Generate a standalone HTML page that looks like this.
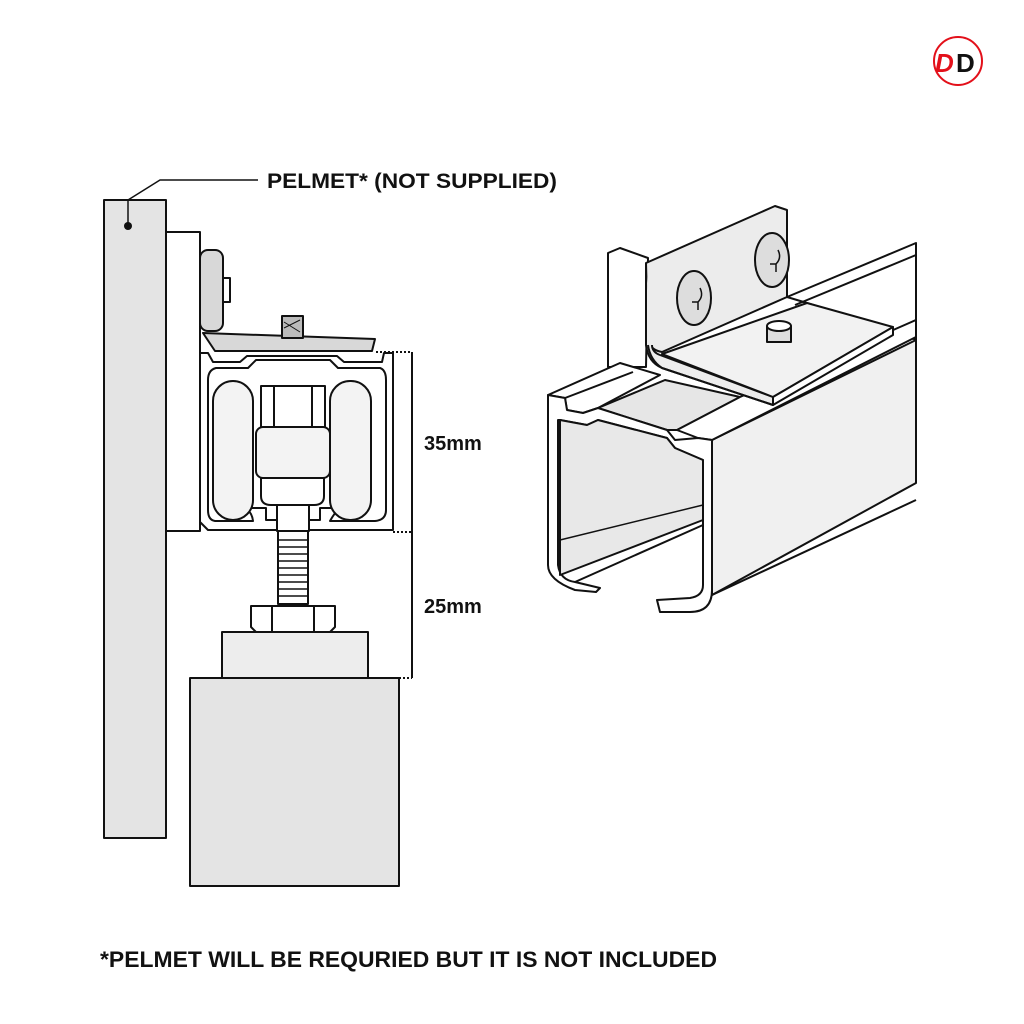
<!DOCTYPE html>
<html><head><meta charset="utf-8"><style>
html,body{margin:0;padding:0;background:#fff;}
svg{display:block}
text{font-family:"Liberation Sans",sans-serif;font-weight:bold;fill:#111}
</style></head><body>
<svg width="1024" height="1024" viewBox="0 0 1024 1024" xmlns="http://www.w3.org/2000/svg">
<circle cx="958" cy="61" r="24" fill="#fff" stroke="#e3101a" stroke-width="2"/>
<text x="935" y="72" font-size="26" font-style="italic" style="fill:#e3101a">D</text>
<text x="956" y="72" font-size="26" style="fill:#111">D</text>

<g stroke="#111" stroke-width="2" stroke-linejoin="round">
<rect x="104" y="200" width="62" height="638" fill="#e4e4e4"/>
<circle cx="128" cy="226" r="4" fill="#111" stroke="none"/>
<polyline points="128,226 128,200 160,180 258,180" fill="none" stroke-width="1.5"/>
<rect x="166" y="232" width="34" height="299" fill="#fff"/>
<rect x="200" y="250" width="23" height="81" rx="8" fill="#d8d8d8"/>
<rect x="223" y="278" width="7" height="24" fill="#fff"/>
<polygon points="203,333 375,339 372,351 215,351" fill="#d8d8d8"/>
<rect x="282" y="316" width="21" height="22" fill="#bbb"/>
<line x1="284" y1="322" x2="300" y2="332" stroke-width="1"/>
<line x1="284" y1="328" x2="300" y2="320" stroke-width="1"/>
<path d="M200,353 L208,353 L213,362 L240,362 L247,356 L337,356 L344,362 L382,362 L384,353 L393,353 L393,530 L208,530 L200,522 Z" fill="#fff"/>
<path d="M216,368 L248,368 L256,360 L330,360 L338,368 L380,368 Q386,370 386,380 L386,510 Q386,520 375,521 L330,521 Q335,512 340,508 L320,508 L320,520 L266,520 L266,508 L245,508 Q252,512 253,521 L215,521 Q208,520 208,510 L208,380 Q208,370 216,368 Z" fill="#fff"/>
<rect x="213" y="381" width="40" height="139" rx="20" fill="#f3f3f3"/>
<rect x="330" y="381" width="41" height="139" rx="20" fill="#f3f3f3"/>
<rect x="261" y="386" width="64" height="44" fill="#fff"/>
<line x1="274" y1="386" x2="274" y2="428"/><line x1="312" y1="386" x2="312" y2="428"/>
<path d="M261,478 L324,478 L324,496 Q324,505 314,505 L271,505 Q261,505 261,496 Z" fill="#fff"/>
<rect x="256" y="427" width="74" height="51" rx="7" fill="#f3f3f3"/>
<rect x="277" y="505" width="32" height="26" fill="#fff"/>
<rect x="278" y="531" width="30" height="73" fill="#fff"/>
<g stroke-width="1.5">
<line x1="278" y1="540" x2="308" y2="540"/><line x1="278" y1="547" x2="308" y2="547"/>
<line x1="278" y1="554" x2="308" y2="554"/><line x1="278" y1="561" x2="308" y2="561"/>
<line x1="278" y1="568" x2="308" y2="568"/><line x1="278" y1="575" x2="308" y2="575"/>
<line x1="278" y1="582" x2="308" y2="582"/><line x1="278" y1="589" x2="308" y2="589"/>
<line x1="278" y1="596" x2="308" y2="596"/></g>
<path d="M251,606 L335,606 L335,627 L330,632 L256,632 L251,627 Z" fill="#fff"/>
<line x1="272" y1="606" x2="272" y2="632"/><line x1="314" y1="606" x2="314" y2="632"/>
<rect x="222" y="632" width="146" height="46" fill="#ededed"/>
<rect x="190" y="678" width="209" height="208" fill="#e4e4e4"/>
<g fill="none" stroke-width="2">
<line x1="376" y1="352" x2="412" y2="352" stroke-dasharray="2,2"/>
<line x1="393" y1="532" x2="412" y2="532" stroke-dasharray="2,2"/>
<line x1="399" y1="678" x2="412" y2="678" stroke-dasharray="2,2"/>
<line x1="412" y1="352" x2="412" y2="678"/>
</g>

<!-- right drawing -->
<polygon points="787,297 916,243 916,340 893,330 807,303" fill="#fff"/>
<line x1="795" y1="305" x2="916" y2="255"/>
<polygon points="712,440 916,340 916,483 712,595" fill="#f0f0f0"/>
<line x1="893" y1="331" x2="916" y2="320"/>
<polygon points="608,253 620,248 648,258 646,367 608,367" fill="#fff"/>
<polygon points="548,395 620,363 660,375 598,408 583,413 567,410 565,398" fill="#fff"/>
<line x1="565" y1="398" x2="633" y2="372"/>
<polygon points="598,408 665,380 740,397 677,430 667,430" fill="#e6e6e6"/>
<polygon points="677,430 740,397 916,320 916,337 712,440 698,438" fill="#fff"/>
<path d="M646,263 L775,206 L787,210 L787,297 L662,352 Q650,350 648,340 Z" fill="#ececec"/>
<ellipse cx="694" cy="298" rx="17" ry="27" fill="#ddd"/>
<ellipse cx="772" cy="260" rx="17" ry="27" fill="#ddd"/>
<path d="M700,288 q4,8 -2,14 l-6,0 m6,0 l0,8" fill="none" stroke-width="1.5"/>
<path d="M778,250 q4,8 -2,14 l-6,0 m6,0 l0,8" fill="none" stroke-width="1.5"/>
<path d="M646,263 L646,345 Q648,362 662,368 L773,405 L773,397 L660,355 Q652,352 652,345" fill="#ececec"/>
<polygon points="662,354 807,303 893,327 773,397" fill="#f2f2f2"/>
<polygon points="773,397 893,327 893,335 773,405" fill="#fff"/>
<path d="M648,345 Q650,360 662,368 L773,405" fill="none"/>
<rect x="767" y="326" width="24" height="16" fill="#ddd"/>
<ellipse cx="779" cy="326" rx="12" ry="5" fill="#fff"/>
<path d="M548,395 L565,398 L567,410 L583,413 L598,408 L667,430 L675,440 L698,438 L712,440 L712,590 Q712,612 690,612 L660,612 L657,600 L690,598 Q703,596 703,585 L703,460 L675,448 L667,438 L598,420 L587,425 L560,420 L558,420 L558,565 Q560,580 575,582 L600,588 L596,592 L575,590 Q548,580 548,565 Z" fill="#fff"/>
<polygon points="560,420 587,425 598,420 667,438 675,448 703,460 703,520 560,575" fill="#e8e8e8"/>
<line x1="560" y1="540" x2="703" y2="505" stroke-width="1.5"/>
<line x1="575" y1="582" x2="703" y2="525"/>
<line x1="712" y1="595" x2="916" y2="500"/>
</g>

<text x="267" y="188" font-size="21" textLength="290" lengthAdjust="spacingAndGlyphs">PELMET* (NOT SUPPLIED)</text>
<text x="424" y="450" font-size="20">35mm</text>
<text x="424" y="613" font-size="20">25mm</text>
<text x="100" y="967" font-size="22" textLength="617" lengthAdjust="spacingAndGlyphs">*PELMET WILL BE REQURIED BUT IT IS NOT INCLUDED</text>
</svg>
</body></html>
